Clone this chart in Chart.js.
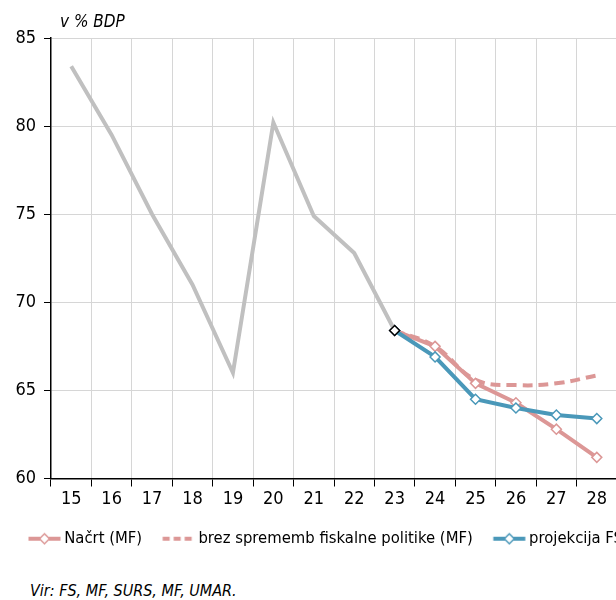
<!DOCTYPE html>
<html>
<head>
<meta charset="utf-8">
<script src="https://cdn.jsdelivr.net/npm/chart.js@4/dist/chart.umd.min.js"></script>
<style>
  html, body { margin: 0; padding: 0; background: #fff; overflow: hidden; width: 616px; height: 600px; }
  #wrap { position: absolute; left: 0; top: 0; width: 641px; height: 557px; }
  .note { position: absolute; font-family: 'DejaVu Sans Condensed', sans-serif; font-style: italic; color: #000; white-space: nowrap; }
  #unit { left: 60px; top: 11px; font-size: 17px; }
  #src { left: 30px; top: 581px; font-size: 16px; }
</style>
</head>
<body>
<div id="wrap"><canvas id="c"></canvas></div>
<div class="note" id="unit">v % BDP</div>
<div class="note" id="src">Vir: FS, MF, SURS, MF, UMAR.</div>
<script>
const years = ['15','16','17','18','19','20','21','22','23','24','25','26','27','28'];
const historical   = [83.4, 79.5, 75.0, 71.0, 66.0, 80.2, 74.9, 72.8, 68.4, null, null, null, null, null];
const nacrtMF      = [null, null, null, null, null, null, null, null, 68.4, 67.5, 65.4, 64.3, 62.8, 61.2];
const brezSprememb = [null, null, null, null, null, null, null, null, 68.4, 67.5, 65.6, 65.3, 65.4, 65.85];
const projekcijaFS = [null, null, null, null, null, null, null, null, 68.4, 66.9, 64.5, 64.0, 63.6, 63.4];
const seriesNames = ['Načrt (MF)', 'brez sprememb fiskalne politike (MF)', 'projekcija FS'];
const yTicks = [60, 65, 70, 75, 80, 85];

const FONT = "'DejaVu Sans Condensed', sans-serif";
const GREY = '#c0c0c0', PINK = '#dc9796', BLUE = '#4a98b9';

function legendIcon(color, dashed, marker) {
  const c = document.createElement('canvas');
  c.width = 50; c.height = 14;
  const g = c.getContext('2d');
  g.strokeStyle = color; g.lineWidth = 4;
  if (dashed) g.setLineDash([7, 4]);
  g.beginPath(); g.moveTo(16.5, 7); g.lineTo(48.5, 7); g.stroke();
  g.setLineDash([]);
  if (marker) {
    g.fillStyle = '#fff'; g.lineWidth = 1.5;
    g.beginPath(); g.moveTo(32.5, 2); g.lineTo(37.5, 7); g.lineTo(32.5, 12); g.lineTo(27.5, 7); g.closePath();
    g.fill(); g.stroke();
  }
  return c;
}
const icons = [legendIcon(PINK, false, true), legendIcon(PINK, true, false), legendIcon(BLUE, false, true)];

new Chart(document.getElementById('c'), {
  type: 'line',
  data: {
    labels: years,
    datasets: [
      { label: 'hist', data: historical, borderColor: GREY, borderWidth: 4, order: 0,
        pointRadius: historical.map((v, i) => i === 8 ? 5 : 0), pointStyle: 'rectRot',
        pointBackgroundColor: '#fff', pointBorderColor: '#000', pointBorderWidth: 1.5 },
      { label: seriesNames[2], data: projekcijaFS, borderColor: BLUE, borderWidth: 4, order: 1,
        pointRadius: 5, pointStyle: 'rectRot', pointBackgroundColor: '#fff', pointBorderColor: BLUE, pointBorderWidth: 1.5 },
      { label: seriesNames[0], data: nacrtMF, borderColor: PINK, borderWidth: 4, order: 2,
        pointRadius: 5, pointStyle: 'rectRot', pointBackgroundColor: '#fff', pointBorderColor: PINK, pointBorderWidth: 1.5 },
      { label: seriesNames[1], data: brezSprememb, borderColor: PINK, borderWidth: 4, order: 3,
        borderDash: [10, 6], pointRadius: 0, tension: 0.4 }
    ]
  },
  options: {
    responsive: true, maintainAspectRatio: false, animation: false,
    layout: { padding: { top: 38, left: 0, right: 0, bottom: 0 } },
    plugins: {
      tooltip: { enabled: false },
      legend: {
        position: 'bottom',
        labels: {
          usePointStyle: true, pointStyleWidth: 38, padding: 10,
          color: '#000', font: { family: FONT, size: 16.5 },
          generateLabels: () => seriesNames.map((n, i) => ({
            text: n, pointStyle: icons[i], fillStyle: 'transparent', strokeStyle: 'transparent',
            lineWidth: 0, hidden: false, datasetIndex: i
          }))
        }
      }
    },
    scales: {
      x: {
        offset: true,
        grid: { offset: true, color: '#d6d6d6', lineWidth: 1, tickColor: '#000', tickLength: 8 },
        border: { color: '#000', width: 1.5 },
        ticks: { color: '#000', font: { family: FONT, size: 18 }, padding: 2, maxRotation: 0, autoSkip: false },
        afterFit: s => { s.height = 42; }
      },
      y: {
        min: 60, max: 85,
        afterBuildTicks: s => { s.ticks = yTicks.map(v => ({ value: v })); },
        grid: { color: '#d6d6d6', lineWidth: 1, tickColor: '#000', tickLength: 7 },
        border: { color: '#000', width: 1.5 },
        ticks: { color: '#000', font: { family: FONT, size: 18 }, padding: 8 },
        afterFit: s => { s.width = 51; }
      },
      spacer: {
        type: 'linear', position: 'right', display: true,
        grid: { display: false }, border: { display: false }, ticks: { display: false },
        afterFit: s => { s.width = 24; }
      }
    }
  }
});
</script>
</body>
</html>
